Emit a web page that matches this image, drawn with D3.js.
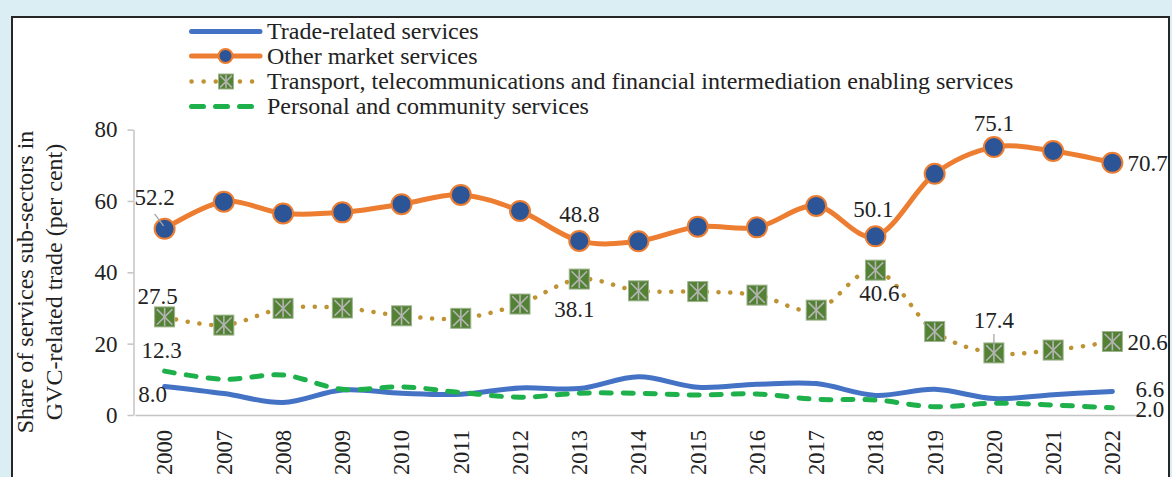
<!DOCTYPE html>
<html>
<head>
<meta charset="utf-8">
<script src="https://cdn.jsdelivr.net/npm/d3@7"></script>
<style>
  html, body { margin: 0; padding: 0; background: #dbeef3; }
  svg { display: block; font-family: "Liberation Serif", "Times New Roman", serif; }
</style>
</head>
<body>
<svg id="chart" width="1172" height="477"></svg>
<script>
// Categories (years) and the four service sub-sector shares, in per cent
const years = ["2000", "2007", "2008", "2009", "2010", "2011", "2012", "2013", "2014",
               "2015", "2016", "2017", "2018", "2019", "2020", "2021", "2022"];
const tradeRelated = [8.0, 6.0, 3.5, 7.0, 6.1, 5.8, 7.6, 7.4, 10.7, 7.8, 8.6, 8.8, 5.5, 7.2, 4.6, 5.7, 6.6];
const otherMarket = [52.2, 59.8, 56.5, 56.8, 59.1, 61.7, 57.2, 48.8, 48.7, 52.8, 52.6, 58.6, 50.1, 67.6, 75.1, 74.0, 70.7];
const transportTelecomFinance = [27.5, 25.2, 29.9, 30.0, 27.8, 27.1, 31.1, 38.1, 34.8, 34.6, 33.6, 29.4, 40.6, 23.4, 17.4, 18.2, 20.6];
const personalCommunity = [12.3, 10.0, 11.2, 7.2, 7.9, 6.3, 5.0, 6.1, 6.1, 5.6, 5.9, 4.4, 4.2, 2.3, 3.3, 2.8, 2.0];
const yTicks = [0, 20, 40, 60, 80];
const seriesNames = [
  "Trade-related services",
  "Other market services",
  "Transport, telecommunications and financial intermediation enabling services",
  "Personal and community services"
];
const axisTitleLines = ["Share of services sub-sectors in", "GVC-related trade (per cent)"];

const C = {
  blue: "#4472c4", orange: "#ed7d31", navy: "#2c5598", gold: "#bf9333",
  green: "#1db04b", moss: "#548235", star: "#b4b4b4", axis: "#c4c4c4", text: "#222"
};

const series = [
  { name: seriesNames[0], values: tradeRelated, color: C.blue, style: "solid" },
  { name: seriesNames[1], values: otherMarket, color: C.orange, style: "circle" },
  { name: seriesNames[2], values: transportTelecomFinance, color: C.gold, style: "dotted" },
  { name: seriesNames[3], values: personalCommunity, color: C.green, style: "dashed" }
];

const svg = d3.select("#chart");

// framed white panel
svg.append("rect").attr("x", 12).attr("y", 17).attr("width", 1157).attr("height", 500)
  .attr("fill", "#fff").attr("stroke", "#262626").attr("stroke-width", 2);

const x = d3.scaleBand().domain(years).range([135, 1142]).padding(0);
const cx = d => x(d) + x.bandwidth() / 2;
const y = d3.scaleLinear().domain([0, 80]).range([415, 129.6]);

// y axis
const gy = svg.append("g").attr("transform", "translate(133.5,0)")
  .call(d3.axisLeft(y).tickValues(yTicks).tickSize(6).tickPadding(10).tickSizeOuter(0));
gy.select(".domain").attr("stroke", C.axis).attr("stroke-width", 1.5);
gy.selectAll(".tick line").attr("stroke", C.axis).attr("stroke-width", 1.5);
gy.selectAll(".tick text").attr("font-size", 23).attr("fill", C.text)
  .attr("font-family", "Liberation Serif");

// x axis
const gx = svg.append("g").attr("transform", `translate(0,${y(0)})`)
  .call(d3.axisBottom(x).tickSize(0).tickSizeOuter(0));
gx.select(".domain").attr("stroke", C.axis).attr("stroke-width", 1.5);
gx.selectAll(".tick text")
  .attr("font-size", 22.5).attr("fill", C.text).attr("font-family", "Liberation Serif")
  .attr("transform", "rotate(-90)")
  .attr("text-anchor", "end").attr("x", -15).attr("y", 0).attr("dy", "0.35em");

// y axis title
axisTitleLines.forEach((t, i) => {
  svg.append("text")
    .attr("transform", `translate(${33 + i * 28.5},282) rotate(-90)`)
    .attr("text-anchor", "middle").attr("font-size", 24).attr("fill", C.text)
    .text(t);
});

const line = d3.line().curve(d3.curveCatmullRom.alpha(0));

function strokeStyle(sel, s) {
  sel.attr("fill", "none").attr("stroke", s.color).attr("stroke-width", 5);
  if (s.style === "dotted") sel.attr("stroke-width", 4.5).attr("stroke-dasharray", "0.1,11.7").attr("stroke-linecap", "round");
  else if (s.style === "dashed") sel.attr("stroke-dasharray", "10,12").attr("stroke-linecap", "round");
  else sel.attr("stroke-linecap", "round");
  return sel;
}

function circleMarker(g, px, py, r) {
  g.append("circle").attr("cx", px).attr("cy", py).attr("r", r)
    .attr("fill", C.navy).attr("stroke", C.orange).attr("stroke-width", 2);
}
function starSquare(g, px, py, h) {
  const m = g.append("g").attr("transform", `translate(${px},${py})`);
  m.append("rect").attr("x", -h).attr("y", -h).attr("width", 2 * h).attr("height", 2 * h)
    .attr("fill", C.moss).attr("stroke", "#9fb58f").attr("stroke-width", 1);
  const k = h * 0.78;
  [[-k, -k, k, k], [-k, k, k, -k], [0, -h + 1, 0, h - 1]].forEach(l => {
    m.append("line").attr("x1", l[0]).attr("y1", l[1]).attr("x2", l[2]).attr("y2", l[3])
      .attr("stroke", C.star).attr("stroke-width", 1.6);
  });
}

// series lines and markers
series.forEach(s => {
  const pts = s.values.map((v, i) => [cx(years[i]), y(v)]);
  strokeStyle(svg.append("path").attr("d", line(pts)), s);
  if (s.style === "circle") pts.forEach(p => circleMarker(svg, p[0], p[1], 10));
  if (s.style === "dotted") pts.forEach(p => starSquare(svg, p[0], p[1], 10));
});

// data labels: series index, point index, anchor and offset from the point
const labelSpecs = [
  { s: 1, i: 0, anchor: "middle", dx: -10, dy: -24, leader: [[-10, -15], [-1, -3]] },
  { s: 1, i: 7, anchor: "middle", dx: 0, dy: -19 },
  { s: 1, i: 12, anchor: "middle", dx: -2, dy: -19 },
  { s: 1, i: 14, anchor: "middle", dx: 0, dy: -16 },
  { s: 1, i: 16, anchor: "start", dx: 15, dy: 8 },
  { s: 2, i: 0, anchor: "middle", dx: -7, dy: -13 },
  { s: 2, i: 7, anchor: "middle", dx: -5, dy: 38 },
  { s: 2, i: 12, anchor: "middle", dx: 4, dy: 31 },
  { s: 2, i: 14, anchor: "middle", dx: 0, dy: -25, leader: [[0, -19], [0, -8]] },
  { s: 2, i: 16, anchor: "start", dx: 15, dy: 8 },
  { s: 3, i: 0, anchor: "middle", dx: -3, dy: -13 },
  { s: 0, i: 0, anchor: "middle", dx: -12, dy: 15.5 },
  { s: 0, i: 16, anchor: "start", dx: 23, dy: 6 },
  { s: 3, i: 16, anchor: "start", dx: 23, dy: 9.5 }
];
const fmt = d3.format(".1f");
labelSpecs.forEach(l => {
  const v = series[l.s].values[l.i];
  const px = cx(years[l.i]), py = y(v);
  if (l.leader) {
    svg.append("line")
      .attr("x1", px + l.leader[0][0]).attr("y1", py + l.leader[0][1])
      .attr("x2", px + l.leader[1][0]).attr("y2", py + l.leader[1][1])
      .attr("stroke", "#a6a6a6").attr("stroke-width", 1.3);
  }
  svg.append("text").attr("x", px + l.dx).attr("y", py + l.dy)
    .attr("text-anchor", l.anchor).attr("font-size", 23).attr("fill", C.text)
    .text(fmt(v));
});

// legend
const legend = svg.append("g");
const rowY = [31.5, 56, 81.5, 106.5];
series.forEach((s, k) => {
  const ry = rowY[k];
  if (s.style === "dotted") {
    legend.append("path").attr("d", `M191.5,${ry}H262`)
      .attr("fill", "none").attr("stroke", s.color).attr("stroke-width", 4.5)
      .attr("stroke-dasharray", "0.1,12").attr("stroke-linecap", "round");
    starSquare(legend, 226, ry, 7.5);
  } else {
    const p = legend.append("path").attr("d", s.style === "dashed" ? `M191.5,${ry}H262` : `M191.5,${ry}H260`)
      .attr("fill", "none").attr("stroke", s.color).attr("stroke-width", 5).attr("stroke-linecap", "round");
    if (s.style === "dashed") p.attr("stroke-dasharray", "12,12");
    if (s.style === "circle") circleMarker(legend, 225.5, ry, 7);
  }
  legend.append("text").attr("x", 267).attr("y", ry).attr("dy", "0.33em")
    .attr("font-size", 24).attr("fill", C.text).text(s.name);
});
</script>
</body>
</html>
